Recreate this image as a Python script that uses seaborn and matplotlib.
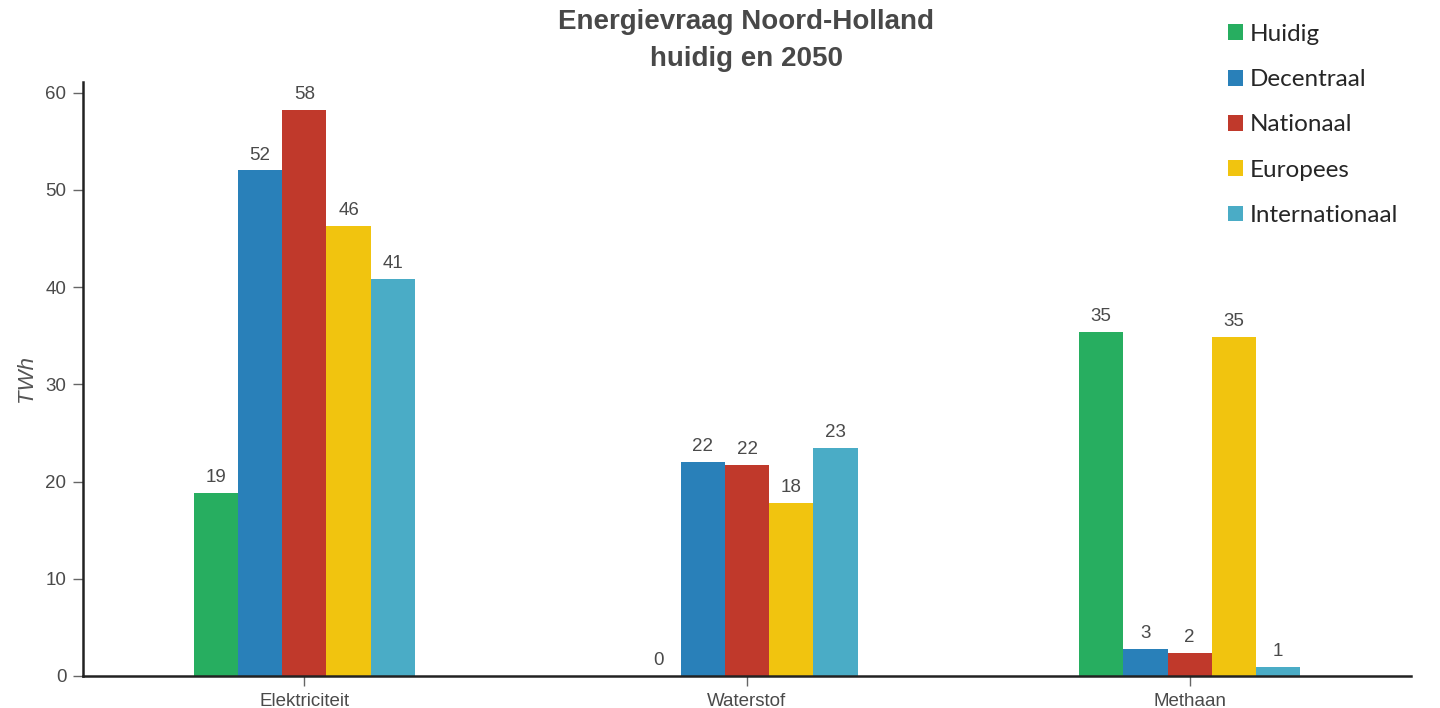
import pandas as pd
import seaborn as sns
import matplotlib.pyplot as plt

categories = ['Elektriciteit', 'Waterstof', 'Methaan']
scenarios = ['Huidig', 'Decentraal', 'Nationaal', 'Europees', 'Internationaal']

huidig = [18.8, 0.0, 35.4]
decentraal = [52.0, 22.0, 2.8]
nationaal = [58.2, 21.7, 2.4]
europees = [46.3, 17.8, 34.9]
internationaal = [40.8, 23.45, 0.9]

colors = ['#27ae60', '#2980b9', '#c0392b', '#f1c40f', '#4aacc6']

rows = []
for name, vals in zip(scenarios, [huidig, decentraal, nationaal, europees, internationaal]):
    for cat, v in zip(categories, vals):
        rows.append({'drager': cat, 'scenario': name, 'TWh': v})
df = pd.DataFrame(rows)

sns.set_theme(style='ticks')
plt.rcParams['font.family'] = ['Liberation Sans', 'DejaVu Sans']

fig = plt.figure(figsize=(14.4, 7.08), dpi=100)
ax = fig.add_axes([83 / 1440, 1 - 676 / 708, (1411 - 83) / 1440, (676 - 82) / 708])

sns.barplot(data=df, x='drager', y='TWh', hue='scenario', hue_order=scenarios,
            palette=colors, width=0.5, saturation=1, linewidth=0, ax=ax, legend=True)

for cont in ax.containers:
    ax.bar_label(cont, fmt='%.0f', padding=5, fontsize=13.5, color='#4a4a4a')

ax.set_xlim(-0.5, 2.5)
ax.set_ylim(0, 61.1)
ax.set_yticks(range(0, 61, 10))
ax.set_xlabel('')
ax.set_ylabel('TWh', fontsize=16, style='italic', color='#555555', labelpad=6)
ax.tick_params(axis='both', labelsize=13.5, labelcolor='#4a4a4a', color='#666666',
               length=7, width=1, pad=5)
for s in ['left', 'bottom']:
    ax.spines[s].set_linewidth(1.8)
    ax.spines[s].set_color('#222222')
sns.despine(ax=ax)

handles, labels = ax.get_legend_handles_labels()
ax.legend(handles, labels, loc='upper left', bbox_to_anchor=(1206 / 1440, 1 - 2 / 708),
          bbox_transform=fig.transFigure, frameon=False,
          prop={'family': 'Lato', 'size': 17.5}, handlelength=0.62, handleheight=0.62,
          handletextpad=0.3, labelspacing=1.0)

fig.text(746 / 1440, 1 - 22 / 708, 'Energievraag Noord-Holland', ha='center', va='center',
         fontsize=20, fontweight='bold', color='#484848')
fig.text(746 / 1440, 1 - 59 / 708, 'huidig en 2050', ha='center', va='center',
         fontsize=20, fontweight='bold', color='#484848')

fig.savefig('out.png', dpi=100)
